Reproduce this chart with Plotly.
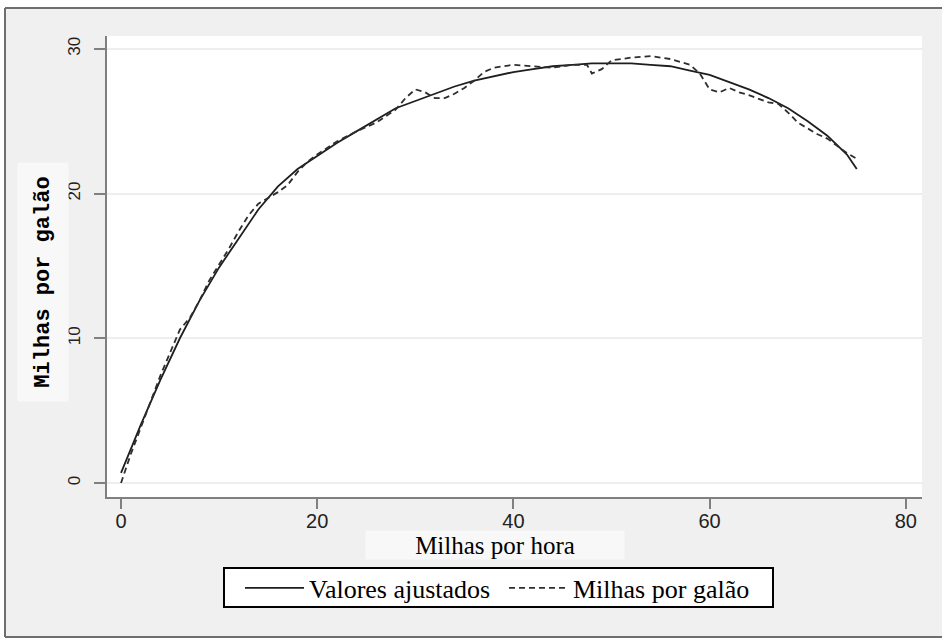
import plotly.graph_objects as go

# ---- data ----
mph_ajust = [0, 2, 4, 6, 8, 10, 12, 14, 16, 18, 20, 22, 24, 26, 28, 30, 32, 34, 36, 38,
             40, 42, 44, 46, 48, 50, 52, 54, 56, 58, 60, 62, 64, 66, 68, 70, 72, 74, 75]
valores_ajustados = [0.7, 4.0, 7.1, 10.0, 12.6, 14.9, 16.9, 18.9, 20.5, 21.7, 22.6, 23.5,
                     24.3, 25.1, 25.9, 26.4, 26.9, 27.4, 27.8, 28.1, 28.4, 28.6, 28.8, 28.9,
                     29.0, 29.0, 29.0, 28.9, 28.8, 28.5, 28.2, 27.7, 27.2, 26.6, 25.9, 25.0,
                     24.0, 22.7, 21.7]

mph_obs = [0, 1, 2, 3, 4, 5, 6, 7, 8, 9, 10, 11, 12, 13, 14, 15, 16, 17, 18, 19, 20, 22, 24,
           26, 28, 29, 30, 31, 32, 33, 34, 35, 36, 37, 38, 40, 42, 44, 46, 47.5, 48, 49, 50,
           52, 54, 56, 58, 59, 60, 61, 62, 63, 64, 66, 67, 68, 69, 70, 71, 72, 73, 74, 75]
milhas_por_galao = [0.0, 2.0, 3.8, 5.6, 7.4, 9.0, 10.6, 11.4, 12.6, 14.0, 15.1, 16.2, 17.4,
                    18.5, 19.3, 19.7, 20.1, 20.6, 21.5, 22.2, 22.7, 23.6, 24.3, 24.9, 25.8,
                    26.6, 27.2, 27.0, 26.6, 26.6, 26.9, 27.3, 27.8, 28.4, 28.7, 28.9, 28.8,
                    28.7, 28.9, 28.9, 28.3, 28.6, 29.2, 29.4, 29.5, 29.3, 28.9, 28.3, 27.2,
                    27.0, 27.3, 27.0, 26.8, 26.3, 26.2, 25.6, 24.9, 24.5, 24.1, 23.8, 23.3,
                    22.8, 22.4]

x_ticks = [0, 20, 40, 60, 80]
y_ticks = [0, 10, 20, 30]

# ---- figure geometry (pixels) ----
W, H = 942, 644
L, R, T, B = 107, 20, 36, 147
PW, PH = W - L - R, H - T - B


def px_x(p):
    return (p - L) / PW


def px_y(p):
    return (H - B - p) / PH


fig = go.Figure()
fig.add_trace(go.Scatter(x=mph_ajust, y=valores_ajustados, mode="lines",
                         name="Valores ajustados",
                         line=dict(color="#1e1e1e", width=1.8)))
fig.add_trace(go.Scatter(x=mph_obs, y=milhas_por_galao, mode="lines",
                         name="Milhas por galão",
                         line=dict(color="#2e2e2e", width=1.8, dash="6px,4px")))

axis_col = "#808080"
frame_col = "#6e6e6e"
fig.update_layout(
    width=W, height=H, autosize=False,
    margin=dict(l=L, r=R, t=T, b=B, pad=0),
    paper_bgcolor="#f0f0f0", plot_bgcolor="white",
    showlegend=True,
    xaxis=dict(range=[-1.43, 81.65], tickvals=x_ticks, showgrid=False, zeroline=False,
               showline=True, linecolor=axis_col, linewidth=2,
               ticks="outside", ticklen=10, tickwidth=2, tickcolor=axis_col,
               ticklabelstandoff=-5,
               tickfont=dict(family="Liberation Sans, Arial, sans-serif", size=20, color="#222")),
    yaxis=dict(range=[-0.97, 30.89], tickvals=y_ticks, tickangle=-90,
               showgrid=True, gridcolor="#eeeeee", gridwidth=2, zeroline=False,
               showline=True, linecolor=axis_col, linewidth=2,
               ticks="outside", ticklen=11, tickwidth=2, tickcolor=axis_col,
               ticklabelstandoff=7,
               tickfont=dict(family="Liberation Sans, Arial, sans-serif", size=17, color="#222")),
    legend=dict(orientation="h", x=px_x(240), y=px_y(588), xanchor="left", yanchor="middle",
                bgcolor="rgba(0,0,0,0)", borderwidth=0,
                itemwidth=59, entrywidth=190, entrywidthmode="pixels",
                font=dict(family="Liberation Serif, Times New Roman, serif", size=26, color="black")),
    annotations=[
        dict(text="Milhas por hora", xref="paper", yref="paper",
             x=px_x(495), y=px_y(545), xanchor="center", yanchor="middle",
             showarrow=False, bgcolor="#f8f8f8", width=258, height=28, borderpad=0,
             font=dict(family="Liberation Serif, Times New Roman, serif", size=25, color="black")),
        dict(text="Milhas por galão", xref="paper", yref="paper",
             x=px_x(43), y=px_y(282), xanchor="center", yanchor="middle", textangle=-90,
             showarrow=False, bgcolor="#f8f8f8", width=238, height=50, borderpad=0,
             font=dict(family="Liberation Mono, Courier New, monospace", size=22, color="black",
                       weight="bold")),
    ],
    shapes=[
        # white strips outside the graph frame
        dict(type="rect", xref="paper", yref="paper", layer="below", line=dict(width=0),
             fillcolor="white", x0=px_x(0), x1=px_x(5), y0=px_y(0), y1=px_y(H)),
        dict(type="rect", xref="paper", yref="paper", layer="below", line=dict(width=0),
             fillcolor="white", x0=px_x(0), x1=px_x(W), y0=px_y(0), y1=px_y(8)),
        dict(type="rect", xref="paper", yref="paper", layer="below", line=dict(width=0),
             fillcolor="white", x0=px_x(0), x1=px_x(W), y0=px_y(637), y1=px_y(H)),
        # graph frame (left, top, bottom)
        dict(type="line", xref="paper", yref="paper", layer="below",
             line=dict(color=frame_col, width=2),
             x0=px_x(5), x1=px_x(5), y0=px_y(8), y1=px_y(637)),
        dict(type="line", xref="paper", yref="paper", layer="below",
             line=dict(color=frame_col, width=2),
             x0=px_x(5), x1=px_x(W), y0=px_y(8), y1=px_y(8)),
        dict(type="line", xref="paper", yref="paper", layer="below",
             line=dict(color=frame_col, width=2),
             x0=px_x(5), x1=px_x(W), y0=px_y(637), y1=px_y(637)),
        # legend box
        dict(type="rect", xref="paper", yref="paper", layer="above",
             line=dict(color="black", width=2), fillcolor="white",
             x0=px_x(224), x1=px_x(773), y0=px_y(568), y1=px_y(607)),
    ],
)

fig.write_html(
    "out.html",
    post_script=("document.body.style.margin='0px';"
                 "document.body.style.overflow='hidden';"
                 "document.documentElement.style.overflow='hidden';"),
    config={"displayModeBar": False},
)
